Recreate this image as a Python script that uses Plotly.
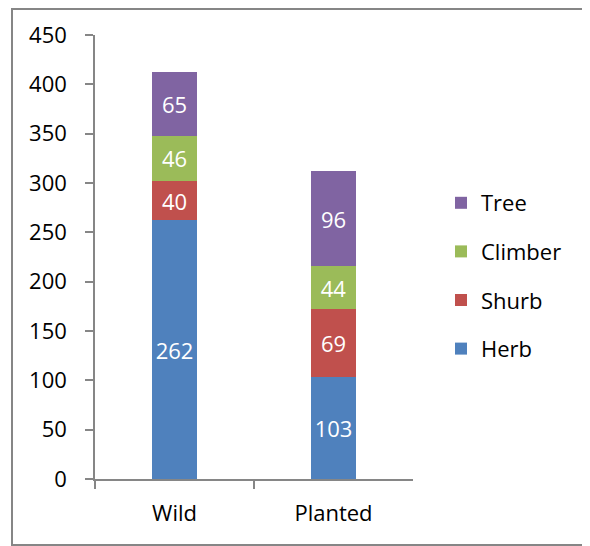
import plotly.graph_objects as go

categories = ["Wild", "Planted"]
series_names = ["Herb", "Shurb", "Climber", "Tree"]
herb = [262, 103]
shurb = [40, 69]
climber = [46, 44]
tree = [65, 96]
colors = ["#4F81BD", "#C0504D", "#9BBB59", "#8064A2"]
y_ticks = [0, 50, 100, 150, 200, 250, 300, 350, 400, 450]

FONT = "Open Sans"
FS = 22
W, H = 590, 546
OFF = 8  # page body margin


def px_x(sx):
    return (sx - OFF) / W


def px_y(sy):
    return 1 - (sy - OFF) / H


fig = go.Figure()
for i, (name, vals, col) in enumerate(zip(series_names, [herb, shurb, climber, tree], colors)):
    fig.add_trace(go.Bar(
        x=categories, y=vals, name=name, legendgroup=name, legendrank=10 - i,
        marker=dict(color=col, line=dict(width=0)),
        text=[str(v) for v in vals], textposition="inside",
        insidetextanchor="middle", textangle=0,
        textfont=dict(color="white", size=FS, family=FONT),
        width=0.277,
    ))

fig.update_layout(
    barmode="stack",
    width=W, height=H,
    autosize=False,
    margin=dict(l=0, r=0, t=0, b=0, autoexpand=False),
    paper_bgcolor="white", plot_bgcolor="white",
    font=dict(family=FONT, size=FS, color="black"),
    xaxis=dict(
        domain=[px_x(95), px_x(413)], automargin=False,
        showline=True, linecolor="#868686", linewidth=1.5,
        ticks="outside", tickson="boundaries", ticklen=8, tickcolor="#868686",
        tickwidth=1.5, ticklabelstandoff=14,
        tickfont=dict(size=FS, family=FONT),
        showgrid=False,
    ),
    yaxis=dict(
        domain=[px_y(479), px_y(35)], automargin=False,
        range=[0, 450], tickvals=y_ticks,
        showline=True, linecolor="#868686", linewidth=1.5,
        ticks="outside", ticklen=8, tickcolor="#868686", tickwidth=1.5,
        ticklabelstandoff=14,
        tickfont=dict(size=FS, family=FONT),
        showgrid=False, zeroline=False,
    ),
    legend=dict(
        x=px_x(441), y=px_y(276), xanchor="left", yanchor="middle",
        traceorder="grouped", tracegroupgap=17,
        bgcolor="rgba(0,0,0,0)",
        font=dict(size=FS, family=FONT),
    ),
    shapes=[dict(type="rect", xref="paper", yref="paper",
                 x0=px_x(12), x1=px_x(587), y0=px_y(545), y1=1 - 1 / H,
                 line=dict(color="#868686", width=2))],
)

fig.write_html("out.html")
